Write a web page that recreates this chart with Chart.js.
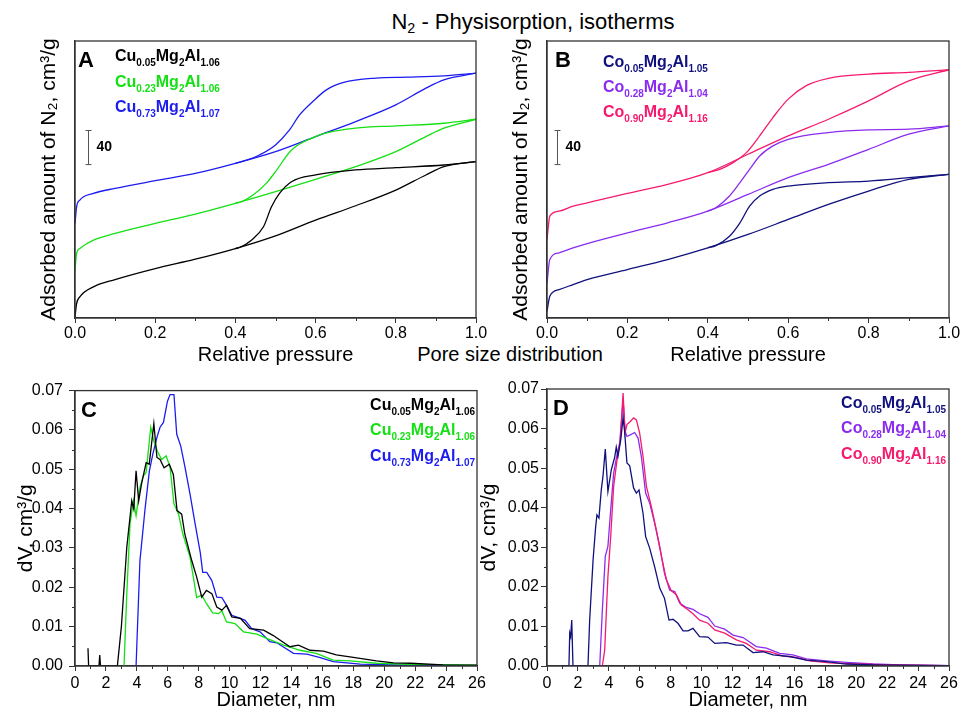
<!DOCTYPE html>
<html lang="en">
<head>
  <meta charset="UTF-8">
  <title>N2 physisorption</title>
  <script src="https://cdn.jsdelivr.net/npm/chart.js"></script>
  <style>
    body {
      margin: 0;
      background: #fff;
      font-family: 'Liberation Sans', Arial, sans-serif;
    }
    #wrap {
      position: relative;
      width: 963px;
      height: 710px;
      overflow: hidden;
    }
    canvas {
      position: absolute;
    }
    .lbl {
      position: absolute;
      color: #000;
      white-space: nowrap;
      text-align: center;
    }
    .lbl sub {
      font-size: 65%;
      vertical-align: -0.3em;
    }
  </style>
</head>
<body>
<div id="wrap">
  <div class="lbl" style="left:383px; top:9px; width:300px; font-size:22px">N<sub>2</sub> - Physisorption, isotherms</div>
  <div class="lbl" style="left:410px; top:343px; width:200px; font-size:20px">Pore size distribution</div>

  <canvas id="chA" width="490" height="345" style="left:0; top:30px"></canvas>
  <canvas id="chB" width="493" height="345" style="left:470px; top:30px"></canvas>
  <canvas id="chC" width="490" height="337" style="left:0; top:375px"></canvas>
  <canvas id="chD" width="493" height="337" style="left:470px; top:375px"></canvas>
</div>

<script>
  // ---- isotherms, panel A (relative pressure / adsorbed amount, cm3/g) ----
  const isoPA = [0, 0.004, 0.012, 0.046, 0.1, 0.2, 0.3, 0.4, 0.5, 0.6, 0.7, 0.8, 0.875, 0.92, 1.0];
  const cu005Ads = [1.2, 16.9, 24.7, 36.5, 45.1, 58.0, 69.0, 81.5, 96.4, 114.9, 131.7, 150.1, 167.8, 177.6, 183.5];
  const cu023Ads = [56.1, 75.7, 81.5, 91.3, 99.2, 110.9, 121.9, 134.5, 148.2, 162.7, 177.6, 195.2, 212.9, 222.7, 233.2];
  const cu073Ads = [110.9, 130.5, 138.4, 146.2, 152.1, 161.1, 169.7, 181.5, 195.2, 212.9, 230.5, 250.1, 269.7, 279.5, 287.3];

  const cu005DesP = [0.4, 0.41, 0.44, 0.47, 0.49, 0.51, 0.54, 0.6, 0.7, 0.8, 0.92, 1.0];
  const cu005Des = [81.5, 82.7, 91.3, 107.0, 130.5, 146.2, 159.9, 167.8, 173.7, 176.4, 179.5, 183.5];
  const cu023DesP = [0.4, 0.415, 0.444, 0.477, 0.5, 0.54, 0.6, 0.625, 0.7, 0.8, 0.92, 1.0];
  const cu023Des = [134.5, 136.4, 144.3, 158.0, 171.7, 197.2, 212.9, 216.8, 222.7, 225.4, 228.5, 233.2];
  const cu073DesP = [0.4, 0.43, 0.46, 0.5, 0.535, 0.56, 0.593, 0.627, 0.67, 0.75, 0.83, 0.92, 1.0];
  const cu073Des = [181.5, 185.4, 191.3, 203.1, 220.7, 238.3, 254.0, 267.7, 276.4, 281.5, 282.6, 284.2, 287.3];

  // ---- isotherms, panel B ----
  const isoPB = [0, 0.007, 0.03, 0.065, 0.1, 0.2, 0.3, 0.4, 0.5, 0.6, 0.7, 0.8, 0.9, 1.0];
  const co005Ads = [7.8, 25.5, 33.3, 39.2, 45.1, 56.8, 68.6, 82.3, 98.0, 115.6, 133.3, 149.0, 162.7, 168.6];
  const co028Ads = [41.2, 68.6, 76.4, 82.3, 87.4, 99.9, 111.7, 125.4, 145.0, 164.6, 180.3, 197.9, 215.6, 225.4];
  const co090Ads = [92.1, 119.6, 125.4, 131.3, 135.2, 146.2, 156.8, 170.5, 192.1, 213.6, 233.2, 254.8, 278.3, 291.3];

  const co005DesP = [0.4, 0.42, 0.454, 0.48, 0.504, 0.529, 0.562, 0.6, 0.7, 0.8, 0.9, 1.0];
  const co005Des = [82.3, 85.0, 96.0, 111.7, 131.3, 143.1, 150.9, 154.8, 158.8, 160.7, 164.6, 168.6];
  const co028DesP = [0.4, 0.42, 0.454, 0.48, 0.504, 0.529, 0.562, 0.6, 0.7, 0.8, 0.9, 1.0];
  const co028Des = [125.4, 129.4, 143.1, 158.8, 174.4, 190.1, 201.9, 209.7, 217.6, 220.7, 221.5, 225.4];
  const co090DesP = [0.4, 0.43, 0.463, 0.496, 0.529, 0.562, 0.6, 0.645, 0.7, 0.8, 0.9, 1.0];
  const co090Des = [170.5, 174.4, 182.3, 194.0, 213.6, 235.2, 256.8, 272.6, 281.2, 286.2, 288.2, 291.3];

  // ---- pore size distribution, panel C (diameter nm / dV cm3/g) ----
  const cu005D = [0.84, 0.88, 1.55, 1.6, 1.65, 2.74, 3.0, 3.35, 3.67, 3.8, 3.95, 4.12, 4.3, 4.6, 4.8, 5.1, 5.3, 5.5, 5.76, 6.1, 6.36, 6.6, 6.9, 7.1, 7.55, 7.87, 8.2, 8.5, 8.85, 9.17, 9.5, 9.8, 10.14, 10.7, 11.3, 12.2, 12.8, 13.9, 14.45, 15.2, 16.07, 16.9, 18, 19.5, 20.6, 21.7, 23.8, 26];
  const cu005V = [0.0045, 0, 0, 0.0028, 0, 0, 0.0100, 0.0302, 0.0420, 0.0399, 0.0496, 0.0420, 0.0462, 0.0517, 0.0513, 0.0616, 0.0530, 0.0525, 0.0504, 0.0513, 0.0487, 0.0395, 0.0386, 0.0336, 0.0268, 0.0226, 0.0175, 0.0192, 0.0184, 0.0150, 0.0142, 0.0154, 0.0125, 0.0121, 0.0095, 0.0091, 0.0078, 0.0049, 0.0053, 0.0040, 0.0038, 0.0028, 0.0022, 0.0013, 0.0008, 0.0007, 0.0003, 0.0002];
  const cu023D = [3.1, 3.17, 3.35, 3.56, 3.78, 3.95, 4.2, 4.42, 4.6, 4.9, 5.1, 5.33, 5.6, 5.9, 6.15, 6.4, 6.7, 6.97, 7.44, 7.87, 8.2, 8.5, 8.9, 9.28, 9.5, 9.8, 10.35, 10.9, 11.76, 12.4, 13.5, 14.56, 15.6, 16.7, 17.8, 19.5, 21.7, 26];
  const cu023V = [0, 0, 0.0184, 0.0361, 0.0420, 0.0382, 0.0454, 0.0483, 0.0492, 0.0607, 0.0572, 0.0546, 0.0525, 0.0534, 0.0504, 0.0412, 0.0386, 0.0336, 0.0277, 0.0174, 0.0180, 0.0159, 0.0135, 0.0133, 0.0140, 0.0112, 0.0108, 0.0087, 0.0081, 0.0070, 0.0053, 0.0040, 0.0032, 0.0015, 0.0013, 0.0007, 0.0004, 0.0002];
  const cu073D = [3.9, 3.95, 4.2, 4.53, 4.81, 5.03, 5.29, 5.5, 5.72, 5.98, 6.15, 6.4, 6.58, 6.84, 7.12, 7.44, 7.77, 8.1, 8.26, 8.52, 8.85, 9.17, 9.5, 9.8, 10.14, 10.57, 11.0, 11.43, 11.97, 12.6, 13.05, 14.13, 15.0, 15.86, 16.7, 18.45, 20.6, 26];
  const cu073V = [0, 0, 0.0268, 0.0399, 0.0496, 0.0538, 0.0580, 0.0607, 0.0619, 0.0673, 0.0690, 0.0690, 0.0589, 0.0559, 0.0504, 0.0437, 0.0361, 0.0289, 0.0238, 0.0238, 0.0217, 0.0175, 0.0174, 0.0154, 0.0129, 0.0123, 0.0116, 0.0095, 0.0087, 0.0062, 0.0059, 0.0032, 0.0030, 0.0021, 0.0011, 0.0005, 0.0003, 0.0001];

  // ---- pore size distribution, panel D ----
  const co005D = [0.93, 1.42, 1.47, 1.53, 1.6, 1.68, 2.65, 2.76, 2.98, 3.15, 3.23, 3.36, 3.51, 3.62, 3.77, 3.94, 4.16, 4.38, 4.48, 4.59, 4.77, 4.92, 5.02, 5.17, 5.35, 5.6, 5.78, 5.95, 6.21, 6.38, 6.64, 6.96, 7.29, 7.6, 7.89, 8.15, 8.47, 8.8, 9.12, 9.44, 9.87, 10.41, 10.85, 11.6, 12.25, 12.68, 13.32, 13.97, 14.62, 15.7, 16.77, 18.07, 19.36, 21.1, 26];
  const co005V = [0, 0, 0.0083, 0.0074, 0.0116, 0, 0, 0.0116, 0.0268, 0.0353, 0.0382, 0.0374, 0.0445, 0.0479, 0.0548, 0.0441, 0.0496, 0.0528, 0.0553, 0.0530, 0.0572, 0.0627, 0.0593, 0.0513, 0.0506, 0.0450, 0.0437, 0.0445, 0.0386, 0.0327, 0.0298, 0.0251, 0.0197, 0.0171, 0.0116, 0.0118, 0.0108, 0.0089, 0.0089, 0.0095, 0.0074, 0.0073, 0.0057, 0.0059, 0.0053, 0.0053, 0.0034, 0.0036, 0.0028, 0.0024, 0.0015, 0.0011, 0.0005, 0.0003, 0.0001];
  const co028D = [3.41, 3.58, 3.77, 3.94, 4.12, 4.31, 4.53, 4.7, 4.92, 5.05, 5.17, 5.39, 5.67, 5.89, 6.1, 6.38, 6.64, 6.96, 7.29, 7.6, 7.93, 8.26, 8.58, 9.01, 9.44, 9.87, 10.41, 10.85, 11.49, 12.03, 12.68, 13.54, 14.19, 15.05, 15.9, 16.77, 18.07, 19.36, 21.1, 22.8, 26];
  const co028V = [0, 0.0142, 0.0277, 0.0302, 0.0395, 0.0487, 0.0534, 0.0563, 0.0673, 0.0593, 0.0580, 0.0584, 0.0590, 0.0576, 0.0530, 0.0437, 0.0412, 0.0361, 0.0302, 0.0234, 0.0192, 0.0188, 0.0159, 0.0148, 0.0143, 0.0132, 0.0123, 0.0101, 0.0093, 0.0078, 0.0072, 0.0049, 0.0045, 0.0032, 0.0028, 0.0018, 0.0013, 0.0009, 0.0005, 0.0003, 0.0001];
  const co090D = [3.58, 3.73, 3.94, 4.12, 4.31, 4.53, 4.74, 4.92, 5.05, 5.17, 5.39, 5.6, 5.78, 5.99, 6.21, 6.43, 6.75, 7.07, 7.4, 7.72, 8.04, 8.37, 8.69, 9.12, 9.44, 9.87, 10.41, 10.85, 11.49, 12.25, 12.89, 13.54, 14.4, 15.26, 16.13, 17.0, 18.28, 20.0, 22.2, 26];
  const co090V = [0, 0.0040, 0.0226, 0.0327, 0.0454, 0.0521, 0.0568, 0.0690, 0.0589, 0.0610, 0.0618, 0.0627, 0.0622, 0.0589, 0.0530, 0.0454, 0.0403, 0.0344, 0.0277, 0.0218, 0.0190, 0.0180, 0.0154, 0.0142, 0.0132, 0.0116, 0.0108, 0.0091, 0.0083, 0.0066, 0.0057, 0.0040, 0.0036, 0.0025, 0.0022, 0.0013, 0.0008, 0.0005, 0.0003, 0.0001];

  // sample names: main text / subscript alternating
  const cuNames = [['Cu', '0.05', 'Mg', '2', 'Al', '1.06'], ['Cu', '0.23', 'Mg', '2', 'Al', '1.06'], ['Cu', '0.73', 'Mg', '2', 'Al', '1.07']];
  const coNames = [['Co', '0.05', 'Mg', '2', 'Al', '1.05'], ['Co', '0.28', 'Mg', '2', 'Al', '1.04'], ['Co', '0.90', 'Mg', '2', 'Al', '1.16']];
  const cuColors = ['#000000', '#14e014', '#1c1cf0'];
  const coColors = ['#10107e', '#8a2cf0', '#f51a6e'];

  const FONT = "'Liberation Sans', Arial, sans-serif";
  const AXIS = '#333';

  function pts(xs, ys) {
    return xs.map((x, i) => ({ x: x, y: ys[i] }));
  }

  // per-canvas decoration: panel letter, legend, scale bar, minor ticks
  const deco = {
    chA: { letter: 'A', lx: 3, names: cuNames, colors: cuColors, nx: 40, ny: [20, 46, 71], right: false, bar: 13, xMinor: 0.1 },
    chB: { letter: 'B', lx: 8, names: coNames, colors: coColors, nx: 56, ny: [26, 51, 76], right: false, bar: 10, xMinor: 0.1 },
    chC: { letter: 'C', lx: 6, names: cuNames, colors: cuColors, nx: 2, ny: [19, 44, 70], right: true, xMinor: 1, yMinor: 0.005 },
    chD: { letter: 'D', lx: 6, names: coNames, colors: coColors, nx: 3, ny: [19, 44, 70], right: true, xMinor: 1, yMinor: 0.005 }
  };

  function drawName(ctx, parts, x, y, right) {
    const big = 'bold 16px ' + FONT, small = 'bold 10px ' + FONT;
    let w = 0;
    parts.forEach((t, i) => { ctx.font = i % 2 ? small : big; w += ctx.measureText(t).width; });
    let cx = right ? x - w : x;
    parts.forEach((t, i) => {
      ctx.font = i % 2 ? small : big;
      ctx.fillText(t, cx, i % 2 ? y + 5 : y);
      cx += ctx.measureText(t).width;
    });
  }

  const decoPlugin = {
    id: 'deco',
    afterDraw(chart) {
      const d = deco[chart.canvas.id];
      const { ctx, chartArea: a, scales } = chart;
      ctx.save();
      // box round the plot
      ctx.strokeStyle = AXIS;
      ctx.lineWidth = 1.3;
      ctx.strokeRect(a.left, a.top, a.right - a.left, a.bottom - a.top);

      // minor ticks
      ctx.lineWidth = 1;
      ctx.beginPath();
      const xs = scales.x;
      for (let v = xs.min + d.xMinor; v < xs.max; v += 2 * d.xMinor) {
        const px = Math.round(xs.getPixelForValue(v)) + 0.5;
        ctx.moveTo(px, a.bottom);
        ctx.lineTo(px, a.bottom + 3);
      }
      if (d.yMinor) {
        const ys = scales.y;
        for (let v = ys.min + d.yMinor; v < ys.max; v += 2 * d.yMinor) {
          const py = Math.round(ys.getPixelForValue(v)) + 0.5;
          ctx.moveTo(a.left, py);
          ctx.lineTo(a.left - 3, py);
        }
      }
      ctx.stroke();

      // scale bar, 40 cm3/g
      if (d.bar) {
        const bx = a.left + d.bar + 0.5;
        const y1 = scales.y.getPixelForValue(220), y2 = scales.y.getPixelForValue(180);
        ctx.strokeStyle = '#555';
        ctx.beginPath();
        ctx.moveTo(bx, y1); ctx.lineTo(bx, y2);
        ctx.moveTo(bx - 3, y1); ctx.lineTo(bx + 3, y1);
        ctx.moveTo(bx - 3, y2); ctx.lineTo(bx + 3, y2);
        ctx.stroke();
        ctx.fillStyle = '#000';
        ctx.font = 'bold 14px ' + FONT;
        ctx.textBaseline = 'middle';
        ctx.fillText('40', bx + 8, (y1 + y2) / 2);
      }

      // panel letter
      ctx.textBaseline = 'alphabetic';
      ctx.fillStyle = '#000';
      ctx.font = 'bold 22px ' + FONT;
      ctx.fillText(d.letter, a.left + d.lx, a.top + 26);

      // legend
      d.names.forEach((parts, i) => {
        ctx.fillStyle = d.colors[i];
        const x = d.right ? a.right - d.nx : a.left + d.nx;
        drawName(ctx, parts, x, a.top + d.ny[i], d.right);
      });
      ctx.restore();
    }
  };

  function line(xs, ys, color, smooth) {
    return {
      data: pts(xs, ys),
      borderColor: color,
      borderWidth: 1.3,
      pointRadius: 0,
      fill: false,
      tension: smooth ? 0.4 : 0,
      cubicInterpolationMode: smooth ? 'monotone' : 'default'
    };
  }

  function makeChart(id, datasets, o) {
    new Chart(document.getElementById(id), {
      type: 'line',
      data: { datasets: datasets },
      options: {
        responsive: false,
        animation: false,
        devicePixelRatio: 1,
        layout: { padding: { top: o.padTop, right: o.padRight, left: 0, bottom: 0 } },
        plugins: { legend: { display: false }, tooltip: { enabled: false } },
        scales: {
          x: {
            type: 'linear',
            min: o.xMin, max: o.xMax,
            ticks: { stepSize: o.xStep, callback: o.xFmt, color: '#000', padding: o.xPad, font: { family: FONT, size: 16 } },
            grid: { drawOnChartArea: false, tickLength: 5, color: AXIS },
            border: { color: AXIS, width: 1.3 },
            title: { display: true, text: o.xTitle, color: '#000', font: { family: FONT, size: 20 }, padding: { top: 0, bottom: o.xTitlePad } },
            afterFit: s => { s.height = o.xH; }
          },
          y: {
            type: 'linear',
            min: o.yMin, max: o.yMax,
            ticks: o.yTicks
              ? { stepSize: 0.01, callback: v => v.toFixed(2), color: '#000', padding: o.yPad, font: { family: FONT, size: 16 } }
              : { display: false },
            grid: o.yTicks ? { drawOnChartArea: false, tickLength: 6, color: AXIS } : { display: false },
            border: { color: AXIS, width: 1.3 },
            title: { display: true, text: o.yTitle, color: '#000', font: { family: FONT, size: 21 }, padding: { top: o.yTitlePad, bottom: 0 } },
            afterFit: s => { s.width = o.yW; }
          }
        }
      },
      plugins: [decoPlugin]
    });
  }

  const isoOpts = {
    xMin: 0, xMax: 1, xStep: 0.2, xFmt: v => v.toFixed(1), xPad: 1,
    xTitle: 'Relative pressure', xTitlePad: 8, xH: 57,
    yMin: 0, yMax: 325, yTicks: false,
    yTitle: 'Adsorbed amount of N\u2082, cm\u00b3/g',
    padTop: 11, padRight: 14
  };
  const psdOpts = {
    xMin: 0, xMax: 26, xStep: 2, xFmt: v => String(v), xPad: 3,
    xTitle: 'Diameter, nm', xTitlePad: 0, xH: 46,
    yMin: 0, yMax: 0.07, yTicks: true,
    yTitle: 'dV, cm\u00b3/g',
    padTop: 14
  };

  makeChart('chA', [
    line(isoPA, cu005Ads, cuColors[0], true), line(cu005DesP, cu005Des, cuColors[0], true),
    line(isoPA, cu023Ads, cuColors[1], true), line(cu023DesP, cu023Des, cuColors[1], true),
    line(isoPA, cu073Ads, cuColors[2], true), line(cu073DesP, cu073Des, cuColors[2], true)
  ], Object.assign({}, isoOpts, { yW: 75, yTitlePad: 37 }));

  makeChart('chB', [
    line(isoPB, co005Ads, coColors[0], true), line(co005DesP, co005Des, coColors[0], true),
    line(isoPB, co028Ads, coColors[1], true), line(co028DesP, co028Des, coColors[1], true),
    line(isoPB, co090Ads, coColors[2], true), line(co090DesP, co090Des, coColors[2], true)
  ], Object.assign({}, isoOpts, { yW: 77, yTitlePad: 39 }));

  makeChart('chC', [
    line(cu005D, cu005V, cuColors[0], false),
    line(cu023D, cu023V, cuColors[1], false),
    line(cu073D, cu073V, cuColors[2], false)
  ], Object.assign({}, psdOpts, { yW: 75, yPad: 6, yTitlePad: 14, padRight: 13 }));

  makeChart('chD', [
    line(co005D, co005V, coColors[0], false),
    line(co090D, co090V, coColors[2], false),
    line(co028D, co028V, coColors[1], false)
  ], Object.assign({}, psdOpts, { yW: 77, yPad: 2, yTitlePad: 7, padRight: 14 }));
</script>
</body>
</html>
